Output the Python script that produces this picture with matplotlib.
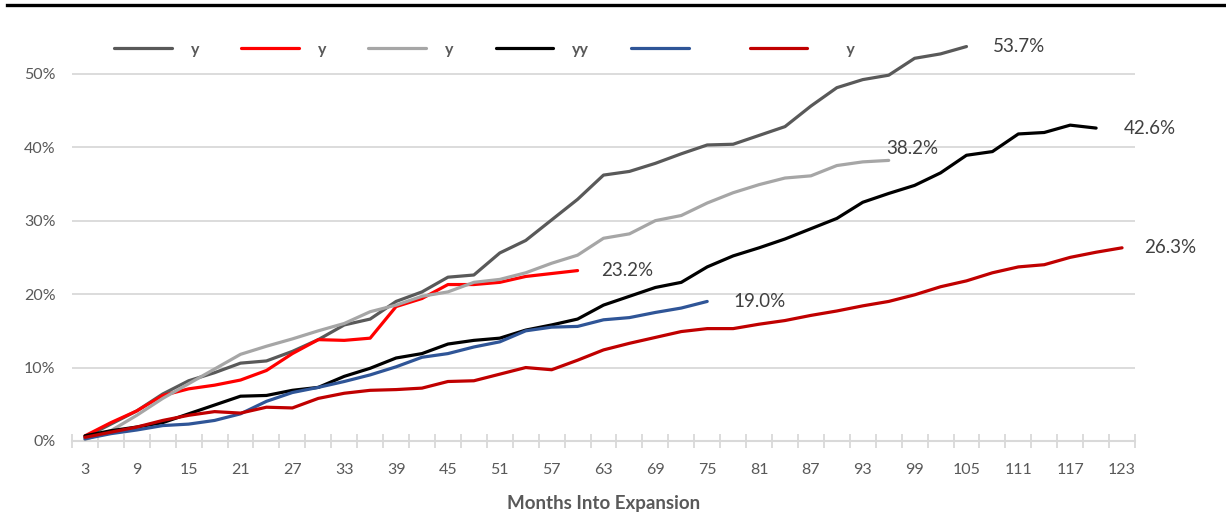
import numpy as np
import matplotlib
matplotlib.use("Agg")
import matplotlib.pyplot as plt
from matplotlib.lines import Line2D

plt.rcParams['font.family'] = ['Lato', 'DejaVu Sans']

# months into expansion, one point every 3 months
months = list(range(3, 126, 3))

s_dgray = [0.5, 2.3, 4.1, 6.4, 8.2, 9.3, 10.6, 10.9, 12.2, 13.8, 15.8, 16.6, 19.0, 20.3,
           22.3, 22.6, 25.6, 27.3, 30.1, 32.9, 36.2, 36.7, 37.8, 39.1, 40.3, 40.4, 41.6,
           42.8, 45.6, 48.1, 49.2, 49.8, 52.1, 52.7, 53.7]
s_red = [0.7, 2.5, 4.1, 6.2, 7.1, 7.6, 8.3, 9.6, 11.9, 13.8, 13.7, 14.0, 18.3, 19.4,
         21.3, 21.3, 21.6, 22.4, 22.8, 23.2]
s_lgray = [0.2, 1.4, 3.5, 5.8, 7.8, 9.8, 11.8, 12.9, 13.9, 15.0, 16.0, 17.6, 18.5, 19.7,
           20.3, 21.6, 22.0, 22.9, 24.2, 25.3, 27.6, 28.2, 30.0, 30.7, 32.4, 33.8, 34.9,
           35.8, 36.1, 37.5, 38.0, 38.2]
s_black = [0.7, 1.4, 1.9, 2.5, 3.7, 4.9, 6.1, 6.2, 6.9, 7.3, 8.8, 9.9, 11.3, 11.9, 13.2,
           13.7, 14.0, 15.1, 15.8, 16.6, 18.5, 19.7, 20.9, 21.6, 23.7, 25.2, 26.3, 27.5,
           28.9, 30.3, 32.5, 33.7, 34.8, 36.5, 38.9, 39.4, 41.8, 42.0, 43.0, 42.6]
s_blue = [0.3, 1.0, 1.5, 2.1, 2.3, 2.8, 3.7, 5.4, 6.6, 7.3, 8.1, 9.0, 10.1, 11.4, 11.9,
          12.8, 13.5, 15.0, 15.5, 15.6, 16.5, 16.8, 17.5, 18.1, 19.0]
s_dred = [0.5, 1.2, 1.9, 2.8, 3.5, 4.0, 3.8, 4.6, 4.5, 5.8, 6.5, 6.9, 7.0, 7.2, 8.1, 8.2,
          9.1, 10.0, 9.7, 11.0, 12.4, 13.3, 14.1, 14.9, 15.3, 15.3, 15.9, 16.4, 17.1,
          17.7, 18.4, 19.0, 19.9, 21.0, 21.8, 22.9, 23.7, 24.0, 25.0, 25.7, 26.3]

labels = ['y', 'y', 'y', 'yy', '', '     y']
series = [s_dgray, s_red, s_lgray, s_black, s_blue, s_dred]
colors = ['#595959', '#ff0000', '#a6a6a6', '#000000', '#2f5597', '#c00000']
# data-label offsets in pixels (dx, dy) from each series' last point
label_off = [(26, 0), (24, 0), (-2, 12), (28, 0), (26, 0), (22, 0)]

W, H = 1226, 524
fig = plt.figure(figsize=(W / 100, H / 100), dpi=100)
ax = fig.add_axes([72 / W, 1 - 441 / H, (1135 - 72) / W, (441 - 37) / H])

handles = []
for vals, col, lab, off in zip(series, colors, labels, label_off):
    x = months[:len(vals)]
    y = np.array(vals) / 100.0
    h, = ax.plot(x, y, color=col, lw=2.3, solid_capstyle='round',
                 solid_joinstyle='round', clip_on=False, zorder=3)
    handles.append(h)
    ax.annotate(f"{vals[-1]:.1f}%", (x[-1], y[-1]), xytext=off,
                textcoords='offset pixels', va='center', ha='left',
                fontsize=13.5, color='#404040')

ax.set_xlim(1.5, 124.5)
ax.set_ylim(0, 0.55)
ax.set_yticks(np.arange(0, 0.51, 0.1))
ax.set_yticklabels([f"{int(round(t * 100))}%" for t in np.arange(0, 0.51, 0.1)])
ax.grid(axis='y', color='#d9d9d9', lw=1.3, zorder=0)

ax.set_xticks(months[::2])
ax.set_xticklabels([str(m) for m in months[::2]])
ax.set_xticks(np.arange(1.5, 125, 3), minor=True)
ax.tick_params(axis='x', which='major', length=0, pad=16, labelsize=11.5, labelcolor='#595959')
ax.tick_params(axis='x', which='minor', length=10, width=1.3, direction='inout', color='#d9d9d9')
ax.tick_params(axis='y', length=0, pad=12, labelsize=11.5, labelcolor='#595959')

for s in ['top', 'right', 'left']:
    ax.spines[s].set_visible(False)
ax.spines['bottom'].set_color('#d9d9d9')
ax.spines['bottom'].set_linewidth(1.5)

ax.set_xlabel("Months Into Expansion", fontsize=13.5, fontweight='bold',
              color='#595959', labelpad=13)

leg = ax.legend(handles, labels, ncol=6, loc='center left',
                bbox_to_anchor=(114 / W, 1 - 50 / H), bbox_transform=fig.transFigure,
                frameon=False, handlelength=3.6, handletextpad=1.2, columnspacing=2.63,
                borderpad=0, borderaxespad=0, prop={'weight': 'bold', 'size': 11.5})
for t in leg.get_texts():
    t.set_color('#595959')

# black rule across the top
fig.add_artist(Line2D([7 / W, 1], [1 - 5 / H, 1 - 5 / H], transform=fig.transFigure,
                      color='black', lw=2.4))

fig.savefig("out.png", dpi=100)
